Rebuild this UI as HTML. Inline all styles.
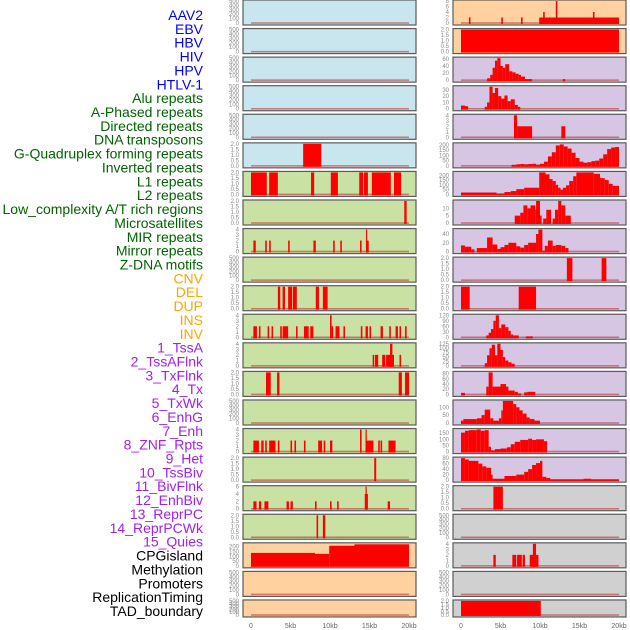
<!DOCTYPE html>
<html><head><meta charset="utf-8"><style>
html,body{margin:0;padding:0;background:#fff;width:630px;height:630px;overflow:hidden}
svg{display:block}
</style></head><body>
<svg id="chart" width="630" height="630" xmlns="http://www.w3.org/2000/svg" font-family="Liberation Sans, sans-serif"></svg>
<script>
const labels=["AAV2","EBV","HBV","HIV","HPV","HTLV-1","Alu repeats","A-Phased repeats","Directed repeats","DNA transposons","G-Quadruplex forming repeats","Inverted repeats","L1 repeats","L2 repeats","Low_complexity A/T rich regions","Microsatellites","MIR repeats","Mirror repeats","Z-DNA motifs","CNV","DEL","DUP","INS","INV","1_TssA","2_TssAFlnk","3_TxFlnk","4_Tx","5_TxWk","6_EnhG","7_Enh","8_ZNF_Rpts","9_Het","10_TssBiv","11_BivFlnk","12_EnhBiv","13_ReprPC","14_ReprPCWk","15_Quies","CPGisland","Methylation","Promoters","ReplicationTiming","TAD_boundary"];
const labelGroups=[6,13,5,15,5];
const labelColors=["#0000ff","#006400","#ffa500","#a020f0","#000000"];
const xTickValues=[0,5,10,15,20];
const xTickLabels=["0","5kb","10kb","15kb","20kb"];
const E=[0,100,200,300,400,500];
// left column panels (22), then right column panels (22)
const panelColors=[
"#c9e5ee","#c9e5ee","#c9e5ee","#c9e5ee","#c9e5ee","#c9e5ee",
"#c9e2a4","#c9e2a4","#c9e2a4","#c9e2a4","#c9e2a4","#c9e2a4","#c9e2a4","#c9e2a4","#c9e2a4","#c9e2a4","#c9e2a4","#c9e2a4","#c9e2a4",
"#ffd19e","#ffd19e","#ffd19e",
"#ffd19e","#ffd19e",
"#d6c6e3","#d6c6e3","#d6c6e3","#d6c6e3","#d6c6e3","#d6c6e3","#d6c6e3","#d6c6e3","#d6c6e3","#d6c6e3","#d6c6e3","#d6c6e3","#d6c6e3","#d6c6e3","#d6c6e3",
"#d0d0d0","#d0d0d0","#d0d0d0","#d0d0d0","#d0d0d0"];
const panelYmax=[500,500,500,500,500,2, 2,2,4,500,2,4,4,2,500,4,2,6,2, 230,500,500,
 8,2,62,35,4,210,230,15,50,2,2,120,125,85,140,180,80, 2,500,4,500,2];
const panelTicks=[E,E,E,E,E,[0,0.5,1,1.5,2],
 [0,0.5,1,1.5,2],[0,0.5,1,1.5,2],[0,1,2,3,4],E,[0,0.5,1,1.5,2],[0,1,2,3,4],[0,1,2,3,4],[0,0.5,1,1.5,2],E,[0,1,2,3,4],[0,0.5,1,1.5,2],[0,2,4,6],[0,0.5,1,1.5,2],
 [0,50,100,150,200],E,E,
 [0,2,4,6,8],[0,0.5,1,1.5,2],[0,20,40,60],[0,10,20,30],[0,1,2,3,4],[0,50,100,150,200],[0,50,100,150,200],[0,5,10],[0,20,40],[0,0.5,1,1.5,2],[0,0.5,1,1.5,2],[0,30,60,90,120],[0,25,50,75,100,125],[0,20,40,60,80],[0,50,100],[0,50,100,150],[0,20,40,60,80],
 [0,0.5,1,1.5,2],E,[0,1,2,3,4],E,[0,0.5,1,1.5,2]];
const panelSegs=[
[],[],[],[],[],[[6.6,8.9,2]],
[[0,2,2],[2.3,3.4,2],[7.6,8,2],[10.1,11,2],[13.7,14.2,2],[14.3,14.8,2],[15.3,17.7,2],[18.1,19,2]],
[[19.4,19.7,2]],
[[0.3,0.6,2],[1.8,2.0,2],[2.3,2.5,2],[4.7,4.9,2],[7.9,8.2,2],[10.4,10.6,2],[11.3,11.5,2],[13.8,14.0,2],[14.6,14.9,2],[14.55,14.7,4]],
[],
[[3.4,3.7,2],[4.0,4.3,2],[4.7,5.2,2],[5.3,5.8,2],[8.2,8.6,2],[9.1,9.7,2]],
[[0.3,0.75,2],[1.0,1.2,2],[2.1,2.3,2],[2.6,2.8,2],[3.7,3.9,2],[4.0,4.7,2],[5.7,5.9,2],[6.7,7.3,2],[7.5,7.9,2],[10.0,10.2,4],[10.2,10.4,2],[10.7,11.2,2],[11.7,11.9,2],[13.9,14.1,2],[14.5,14.8,2],[15.0,15.2,2],[16.4,16.7,2],[17.5,17.7,2],[18.3,18.6,2],[18.8,19.0,2],[19.5,19.7,2]],
[[15.4,15.6,2],[15.7,16.1,2],[16.6,17.0,2],[17.1,18.1,2],[17.6,17.9,4],[18.8,19.0,2]],
[[1.9,2.5,2],[3.3,3.6,2],[18.7,19.1,2],[19.5,20,2]],
[],
[[0.3,1.0,2],[1.3,1.6,2],[1.8,2.0,2],[2.3,3.1,2],[3.4,3.6,2],[5.0,5.2,2],[5.5,5.7,2],[6.7,6.9,2],[8.5,9.0,2],[9.2,9.4,2],[10.0,10.3,2],[13.8,14.0,4],[14.5,15.5,2],[14.5,14.65,4],[16.1,16.3,2],[16.4,16.6,2],[17.4,18.3,2]],
[[15.6,15.85,2]],
[[0.3,0.7,2],[1.0,1.3,2],[1.7,2.2,2],[4.5,4.8,2],[5.0,5.3,2],[8.1,8.3,2],[10.0,10.2,2],[10.9,11.1,2],[17.3,17.6,2],[14.4,14.8,4],[14.5,14.65,6]],
[[8.3,8.5,2],[9.1,9.4,2]],
[[0,8.1,135],[8.1,9.9,125],[9.9,13.1,210],[13.1,20,225]],
[],[],
// right column
[[1.0,1.2,2],[5.1,5.3,2],[7.6,7.8,2],[9.9,20,2],[10.4,10.6,4],[16.7,16.9,4],[12.0,12.2,8]],
[[0,20,2]],
[[3.3,3.7,5],[3.7,4.0,15],[4.0,4.3,35],[4.3,4.6,55],[4.6,5.0,62],[5.0,5.3,40],[5.3,5.6,35],[5.6,6.1,45],[6.1,6.5,25],[6.5,6.9,22],[6.9,7.3,18],[7.3,7.6,15],[7.6,8.1,10],[8.1,9.0,3],[12.9,13.2,3]],
[[0,0.5,5],[0.5,0.9,4],[3.0,3.3,3],[3.3,3.6,10],[3.6,4.0,35],[4.0,4.3,25],[4.3,4.7,33],[4.7,5.1,20],[5.1,5.5,16],[5.5,5.9,21],[5.9,6.3,12],[6.3,6.8,15],[6.8,7.2,6],[7.2,7.5,3]],
[[6.7,7.1,4],[7.1,9.0,2],[12.7,13.2,2]],
[[6.4,7,10],[7,7.5,15],[7.5,8,18],[8,8.5,15],[8.5,9,18],[9,9.5,20],[9.5,10,12],[10,10.5,20],[10.5,11,40],[11,11.5,90],[11.5,12,130],[12,12.5,195],[12.5,13,205],[13,13.5,185],[13.5,14,165],[14,14.5,125],[14.5,15,75],[15,15.5,40],[15.5,16,30],[16,16.5,35],[16.5,17,45],[17,17.5,50],[17.5,18,70],[18,18.5,110],[18.5,19,160],[19,19.5,175],[19.5,20,180]],
[[0,4.5,20],[4.5,5.5,10],[5.5,6.3,25],[6.3,7,35],[7,8,55],[8,9.9,70],[9.9,10.7,230],[10.7,11.2,210],[11.2,11.6,160],[11.6,12,140],[12,12.3,100],[12.3,12.6,70],[12.6,12.9,50],[12.9,13.3,70],[13.3,13.7,95],[13.7,14.2,140],[14.2,14.6,190],[14.6,16.8,230],[16.8,17.6,215],[17.6,18.2,170],[18.2,18.7,150],[18.7,19.2,110],[19.2,20,90]],
[[6.8,7.5,5],[7.5,7.9,7],[7.9,8.4,12],[8.4,8.8,10],[8.8,9.4,12],[9.4,9.5,9],[9.5,10,15],[10,10.2,5],[10.4,10.8,3],[10.8,11.4,9],[11.6,11.9,3],[11.9,12.3,9],[12.3,12.7,15],[12.7,13.2,12],[13.2,13.9,5]],
[[0,0.5,14],[0.5,1.3,11],[1.3,1.7,5],[2,3.3,8],[3.3,4,32],[4,4.6,16],[4.6,5,6],[5,5.5,10],[5.5,6,15],[6,7,20],[7,7.5,12],[7.5,8,9],[8,8.5,15],[8.5,9.5,20],[9.5,9.8,40],[9.8,10.3,50],[10.3,10.6,2],[10.6,11,13],[11,11.6,25],[11.6,12,13],[12,12.7,15],[12.7,13.2,13],[13.2,13.6,8]],
[[13.4,14.1,2],[17.8,18.4,2]],
[[0,1.1,2],[7.3,9.5,2]],
[[3.2,3.5,10],[3.5,3.8,25],[3.8,4.1,45],[4.1,4.4,90],[4.4,4.8,120],[4.8,5.1,50],[5.1,5.6,70],[5.6,6,55],[6,6.3,35],[6.3,6.6,15],[6.6,7.3,10],[8.2,9.1,5]],
[[3.0,3.3,15],[3.3,3.6,60],[3.6,3.9,100],[3.9,4.3,120],[4.3,4.6,60],[4.6,5.0,125],[5.0,5.3,90],[5.3,5.6,50],[5.6,6.0,30],[6.0,6.4,20],[6.4,6.8,12]],
[[0,0.5,6],[3.2,3.5,30],[3.5,4.0,85],[4.0,4.3,30],[4.3,5.0,30],[5.0,5.7,40],[5.7,6.0,30],[6.0,6.8,15],[6.8,7.2,10],[7.2,7.6,4],[8.0,8.4,8],[8.4,9.4,10]],
[[0,0.3,15],[0.3,2,25],[2,2.6,30],[2.6,3,50],[3,3.7,85],[3.7,4.1,30],[4.1,4.8,15],[4.8,5.1,30],[5.1,5.3,80],[5.3,6.6,140],[6.6,7,120],[7,7.4,100],[7.4,7.8,80],[7.8,8.3,60],[8.3,8.7,35],[8.7,9.3,25],[9.3,10,15]],
[[0,0.5,155],[0.5,1,170],[1,2,175],[2,2.5,180],[2.5,3,170],[3,3.5,175],[3.5,3.8,40],[3.8,4.3,10],[4.3,5,20],[5,5.8,25],[5.8,6.3,35],[6.3,6.8,60],[6.8,7.5,80],[7.5,8.5,95],[8.5,9,105],[9,9.5,95],[9.5,10.5,100],[10.5,10.9,85]],
[[0,0.5,80],[0.5,1,75],[1,2.2,70],[2.2,2.7,60],[2.7,3.2,50],[3.2,3.8,45],[3.8,4,20],[4,5.5,5],[5.5,7,15],[7,8,20],[8,8.5,30],[8.5,9,40],[9,9.5,55],[9.5,10,62],[10,10.3,70],[10.3,10.8,12],[10.8,11.3,8],[11.3,15.5,3],[15.5,16.5,5],[16.5,20,3]],
[[4.1,5.3,2]],
[],
[[4.1,4.4,2],[6.5,7.0,2],[7.1,7.7,2],[7.8,8.1,2],[8.7,9.8,2],[9.1,9.5,4]],
[],
[[0,10.1,2]]
];
const NS="http://www.w3.org/2000/svg";
const svg=document.getElementById('chart');
function mk(tag,attrs,parent){const e=document.createElementNS(NS,tag);for(const k in attrs)e.setAttribute(k,attrs[k]);(parent||svg).appendChild(e);return e;}
// labels
let li=0;
labelGroups.forEach((n,g)=>{for(let j=0;j<n;j++){const t=mk('text',{x:203,y:15+li*13.86+5,'text-anchor':'end','font-size':14,fill:labelColors[g]});


t.textContent=labels[li];li++;}});
const colX=[243,453], PW=173, rowStep=28.57;
function xScale(col,kb){return colX[col]+8+kb*7.9;}
for(let p=0;p<44;p++){
  const col=p<22?0:1, r=p%22;
  const top=r*rowStep, h=r===21?17:25, bot=top+h;
  const ymax=panelYmax[p];
  const yScale=v=>bot-2-v/ymax*(h-3);
  const g=mk('g',{});
  
  
  mk('rect',{x:colX[col],y:top,width:PW,height:h,fill:panelColors[p],stroke:'#5a5a5a','stroke-width':1.2},g);
  mk('line',{x1:xScale(col,0),x2:xScale(col,20),y1:yScale(0),y2:yScale(0),stroke:'#c03030','stroke-opacity':0.6,'stroke-width':1.5},g);
  panelSegs[p].forEach(s=>{
    const x1=xScale(col,s[0]),x2=xScale(col,s[1]),y=yScale(s[2]);
    const b=mk('rect',{x:x1,y:y,width:Math.max(1.2,x2-x1),height:yScale(0)-y+1,fill:'#ff0000'},g);
    
    
  });
  panelTicks[p].forEach(tv=>{
    const t=mk('text',{x:colX[col]-4,y:yScale(tv)+2,'text-anchor':'end','font-size':6,fill:'#8a8a8a'},g);
    
    
    t.textContent=(ymax<=2)?tv.toFixed(1):String(tv);
  });
}
for(let col=0;col<2;col++){xTickValues.forEach((v,i)=>{
  const t=mk('text',{x:xScale(col,v),y:628,'text-anchor':'middle','font-size':7,fill:'#666'});
  
  
  t.textContent=xTickLabels[i];
});}
</script>
</body></html>
